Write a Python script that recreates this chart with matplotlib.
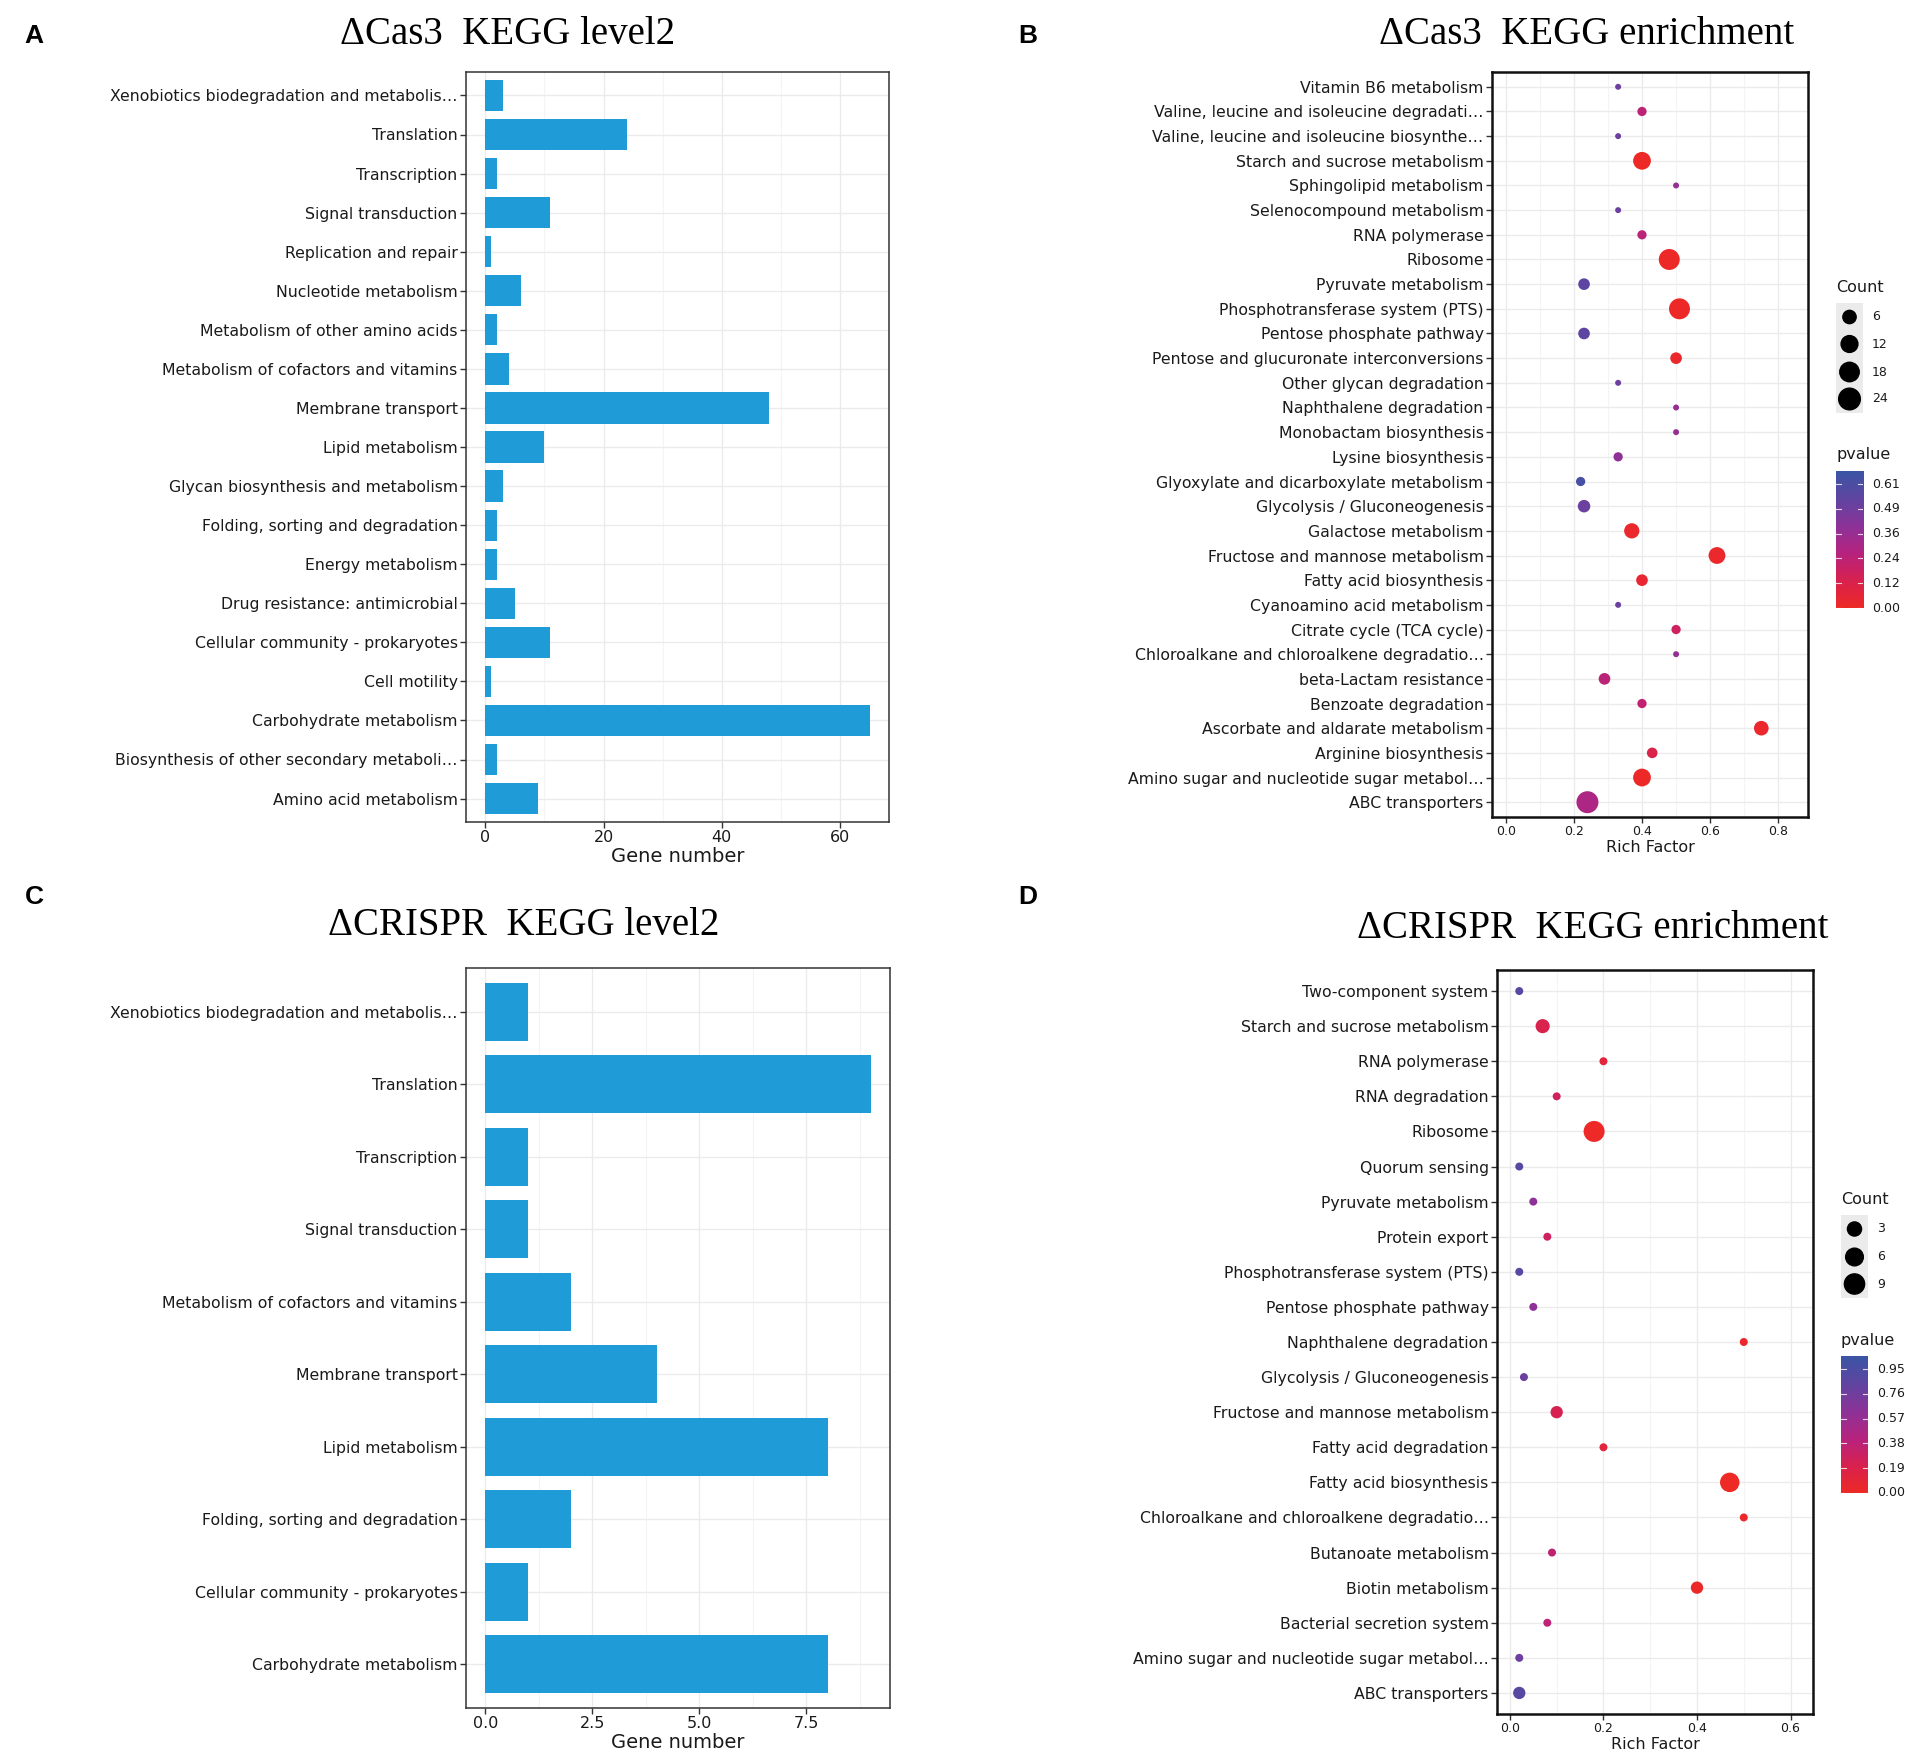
import matplotlib
matplotlib.use("Agg")
import matplotlib.pyplot as plt
import numpy as np
from matplotlib.colors import LinearSegmentedColormap
from matplotlib.patches import Rectangle

# ---------------- data ----------------
a_categories = ["Xenobiotics biodegradation and metabolis…", "Translation", "Transcription",
                "Signal transduction", "Replication and repair", "Nucleotide metabolism",
                "Metabolism of other amino acids", "Metabolism of cofactors and vitamins",
                "Membrane transport", "Lipid metabolism", "Glycan biosynthesis and metabolism",
                "Folding, sorting and degradation", "Energy metabolism",
                "Drug resistance: antimicrobial", "Cellular community - prokaryotes",
                "Cell motility", "Carbohydrate metabolism",
                "Biosynthesis of other secondary metaboli…", "Amino acid metabolism"]
a_genes = [3, 24, 2, 11, 1, 6, 2, 4, 48, 10, 3, 2, 2, 5, 11, 1, 65, 2, 9]

c_categories = ["Xenobiotics biodegradation and metabolis…", "Translation", "Transcription",
                "Signal transduction", "Metabolism of cofactors and vitamins",
                "Membrane transport", "Lipid metabolism", "Folding, sorting and degradation",
                "Cellular community - prokaryotes", "Carbohydrate metabolism"]
c_genes = [1, 9, 1, 1, 2, 4, 8, 2, 1, 8]

b_pathways = ["Vitamin B6 metabolism", "Valine, leucine and isoleucine degradati…",
              "Valine, leucine and isoleucine biosynthe…", "Starch and sucrose metabolism",
              "Sphingolipid metabolism", "Selenocompound metabolism", "RNA polymerase",
              "Ribosome", "Pyruvate metabolism", "Phosphotransferase system (PTS)",
              "Pentose phosphate pathway", "Pentose and glucuronate interconversions",
              "Other glycan degradation", "Naphthalene degradation", "Monobactam biosynthesis",
              "Lysine biosynthesis", "Glyoxylate and dicarboxylate metabolism",
              "Glycolysis / Gluconeogenesis", "Galactose metabolism",
              "Fructose and mannose metabolism", "Fatty acid biosynthesis",
              "Cyanoamino acid metabolism", "Citrate cycle (TCA cycle)",
              "Chloroalkane and chloroalkene degradatio…", "beta-Lactam resistance",
              "Benzoate degradation", "Ascorbate and aldarate metabolism",
              "Arginine biosynthesis", "Amino sugar and nucleotide sugar metabol…",
              "ABC transporters"]
b_rich = [0.33, 0.40, 0.33, 0.40, 0.50, 0.33, 0.40, 0.48, 0.23, 0.51,
          0.23, 0.50, 0.33, 0.50, 0.50, 0.33, 0.22, 0.23, 0.37, 0.62,
          0.40, 0.33, 0.50, 0.50, 0.29, 0.40, 0.75, 0.43, 0.40, 0.24]
b_count = [1, 2, 1, 14, 1, 1, 2, 22, 4, 22,
           4, 4, 1, 1, 1, 2, 2, 5, 9, 12,
           4, 1, 2, 1, 4, 2, 8, 3, 14, 25]
b_pvalue = [0.50, 0.25, 0.50, 0.01, 0.38, 0.50, 0.25, 0.01, 0.55, 0.01,
            0.55, 0.02, 0.50, 0.38, 0.38, 0.40, 0.63, 0.50, 0.02, 0.02,
            0.04, 0.50, 0.18, 0.38, 0.25, 0.23, 0.02, 0.12, 0.01, 0.30]

d_pathways = ["Two-component system", "Starch and sucrose metabolism", "RNA polymerase",
              "RNA degradation", "Ribosome", "Quorum sensing", "Pyruvate metabolism",
              "Protein export", "Phosphotransferase system (PTS)", "Pentose phosphate pathway",
              "Naphthalene degradation", "Glycolysis / Gluconeogenesis",
              "Fructose and mannose metabolism", "Fatty acid degradation",
              "Fatty acid biosynthesis", "Chloroalkane and chloroalkene degradatio…",
              "Butanoate metabolism", "Biotin metabolism", "Bacterial secretion system",
              "Amino sugar and nucleotide sugar metabol…", "ABC transporters"]
d_rich = [0.02, 0.07, 0.20, 0.10, 0.18, 0.02, 0.05, 0.08, 0.02, 0.05,
          0.50, 0.03, 0.10, 0.20, 0.47, 0.50, 0.09, 0.40, 0.08, 0.02, 0.02]
d_count = [1, 3, 1, 1, 10, 1, 1, 1, 1, 1,
           1, 1, 2, 1, 8, 1, 1, 2, 1, 1, 2]
d_pvalue = [0.90, 0.20, 0.12, 0.27, 0.01, 0.90, 0.62, 0.28, 0.90, 0.62,
            0.03, 0.78, 0.22, 0.12, 0.005, 0.03, 0.35, 0.02, 0.38, 0.78, 0.88]

b_count_breaks = [6, 12, 18, 24]
d_count_breaks = [3, 6, 9]
b_p_ticks = [0.0, 0.122, 0.244, 0.366, 0.488, 0.61]
b_p_labels = ["0.00", "0.12", "0.24", "0.36", "0.49", "0.61"]
d_p_ticks = [0.0, 0.19, 0.38, 0.57, 0.76, 0.95]
d_p_labels = ["0.00", "0.19", "0.38", "0.57", "0.76", "0.95"]

# ---------------- style ----------------
W, H = 1905, 1753
DPI = 100
fig = plt.figure(figsize=(W / DPI, H / DPI), dpi=DPI)
plt.rcParams['font.family'] = ['DejaVu Sans']

BAR = '#1F9BD7'
GRID = '#EBEBEB'
cmap = LinearSegmentedColormap.from_list(
    'pv', ['#EE2A26', '#D8214F', '#B6237F', '#8C3398', '#5F45A1', '#3B55A5'])
PX2PT = 72.0 / DPI


def rect(l, t, r, b):
    return [l / W, 1 - b / H, (r - l) / W, (b - t) / H]


def diam_px(c, cmin, cmax, dmin, dmax):
    c = np.asarray(c, dtype=float)
    return dmin + (dmax - dmin) * np.sqrt((c - cmin) / (cmax - cmin))


def style_axes(ax, border_color, border_lw):
    for s in ax.spines.values():
        s.set_color(border_color)
        s.set_linewidth(border_lw)
    ax.set_axisbelow(True)
    ax.tick_params(axis='both', length=4, width=1.0, color='#333333', pad=2)


def bar_panel(box, cats, vals, xmax_data, xticks, xticklabels, minor, ylabsize, xticksize):
    ax = fig.add_axes(rect(*box))
    n = len(cats)
    y = np.arange(n)
    ax.barh(y, vals, height=0.8, color=BAR, zorder=3)
    ax.set_ylim(n - 1 + 0.6, -0.6)
    span = xmax_data
    ax.set_xlim(-0.05 * span, xmax_data + 0.05 * span)
    ax.set_yticks(y)
    ax.set_yticklabels(cats, fontsize=ylabsize, color='#1a1a1a')
    ax.set_xticks(xticks)
    ax.set_xticklabels(xticklabels, fontsize=xticksize, color='#1a1a1a')
    ax.set_xticks(minor, minor=True)
    ax.tick_params(axis='x', which='minor', length=0)
    ax.grid(True, which='major', color=GRID, lw=1.0)
    ax.grid(True, which='minor', axis='x', color='#F4F4F4', lw=0.8)
    style_axes(ax, '#333333', 1.1)
    ax.set_xlabel('Gene number', fontsize=14, labelpad=1, color='#1a1a1a')
    return ax


def dot_panel(box, paths, rich, counts, pvals, xlim, xticks, vmax, cmin, cmax, dmin, dmax,
              ylabsize, xticksize):
    ax = fig.add_axes(rect(*box))
    n = len(paths)
    y = np.arange(n)
    d = diam_px(counts, cmin, cmax, dmin, dmax) * PX2PT
    ax.scatter(rich, y, s=d ** 2, c=pvals, cmap=cmap, vmin=0, vmax=vmax,
               edgecolors='none', zorder=3)
    ax.set_ylim(n - 1 + 0.6, -0.6)
    ax.set_xlim(*xlim)
    ax.set_yticks(y)
    ax.set_yticklabels(paths, fontsize=ylabsize, color='#1a1a1a')
    ax.set_xticks(xticks)
    ax.set_xticklabels([f"{t:.1f}" for t in xticks], fontsize=xticksize, color='#1a1a1a')
    minor = [(xticks[i] + xticks[i + 1]) / 2 for i in range(len(xticks) - 1)]
    ax.set_xticks(minor, minor=True)
    ax.tick_params(axis='x', which='minor', length=0)
    ax.grid(True, which='major', color=GRID, lw=1.0)
    ax.grid(True, which='minor', axis='x', color='#F4F4F4', lw=0.8)
    style_axes(ax, '#111111', 1.8)
    ax.set_xlabel('Rich Factor', fontsize=11.5, labelpad=1, color='#1a1a1a')
    return ax


def count_legend(x0, title_y, box_top, box_bot, key_ys, breaks, cmin, cmax, dmin, dmax):
    fig.text(x0 / W, 1 - title_y / H, 'Count', fontsize=11.5, va='center', ha='left',
             color='#1a1a1a')
    lax = fig.add_axes(rect(x0, box_top, x0 + 27, box_bot))
    lax.set_xlim(0, 1)
    lax.set_ylim(box_bot, box_top)
    lax.axis('off')
    lax.add_patch(Rectangle((0, box_top), 1, box_bot - box_top, color='#EBEBEB', zorder=0))
    d = diam_px(breaks, cmin, cmax, dmin, dmax) * PX2PT
    lax.scatter([0.5] * len(breaks), key_ys, s=d ** 2, c='black', zorder=2)
    for yy, b in zip(key_ys, breaks):
        fig.text((x0 + 36) / W, 1 - yy / H, str(b), fontsize=9, va='center',
                 ha='left', color='#1a1a1a')


def pvalue_bar(x0, title_y, top, bot, vmax, ticks, labels):
    fig.text(x0 / W, 1 - title_y / H, 'pvalue', fontsize=11.5, va='center', ha='left',
             color='#1a1a1a')
    cax = fig.add_axes(rect(x0, top, x0 + 27, bot))
    grad = np.linspace(0, vmax, 256).reshape(-1, 1)
    cax.imshow(grad, aspect='auto', cmap=cmap, vmin=0, vmax=vmax, origin='lower',
               extent=[0, 1, 0, vmax])
    cax.set_xlim(0, 1)
    cax.set_ylim(0, vmax)
    cax.axis('off')
    for t, lab in zip(ticks, labels):
        cax.plot([0, 0.2], [t, t], color='white', lw=0.8, alpha=0.8)
        cax.plot([0.8, 1], [t, t], color='white', lw=0.8, alpha=0.8)
        yy = bot - (bot - top) * t / vmax
        fig.text((x0 + 36) / W, 1 - yy / H, lab, fontsize=9, va='center', ha='left',
                 color='#1a1a1a')


# ---------------- panels ----------------
bar_panel((466, 72, 889, 822), a_categories, a_genes, 65,
          [0, 20, 40, 60], ['0', '20', '40', '60'], [10, 30, 50], 11.3, 11.5)
bar_panel((466, 968, 890, 1708), c_categories, c_genes, 9,
          [0, 2.5, 5.0, 7.5], ['0.0', '2.5', '5.0', '7.5'], [1.25, 3.75, 6.25, 8.75], 11.3, 11.5)

dot_panel((1492, 72, 1808, 817), b_pathways, b_rich, b_count, b_pvalue,
          (-0.04, 0.887), [0.0, 0.2, 0.4, 0.6, 0.8], 0.675, 1, 25, 6, 22, 11.3, 9)
dot_panel((1497, 970, 1813, 1714), d_pathways, d_rich, d_count, d_pvalue,
          (-0.0276, 0.648), [0.0, 0.2, 0.4, 0.6], 1.05, 1, 10, 8, 21, 11.3, 9)

count_legend(1836, 288, 303, 413, [317, 344, 372, 399], b_count_breaks, 1, 25, 6, 22)
pvalue_bar(1836, 455, 471, 608, 0.675, b_p_ticks, b_p_labels)
count_legend(1841, 1199, 1215, 1298, [1229, 1257, 1284], d_count_breaks, 1, 10, 8, 21)
pvalue_bar(1841, 1340, 1356, 1493, 1.05, d_p_ticks, d_p_labels)

# ---------------- titles & letters ----------------
serif = ['Liberation Serif', 'DejaVu Serif']
fig.text(508 / W, 1 - 34 / H, 'ΔCas3  KEGG level2', fontsize=28, family=serif,
         ha='center', va='center')
fig.text(1587 / W, 1 - 34 / H, 'ΔCas3  KEGG enrichment', fontsize=28, family=serif,
         ha='center', va='center')
fig.text(524 / W, 1 - 926 / H, 'ΔCRISPR  KEGG level2', fontsize=28, family=serif,
         ha='center', va='center')
fig.text(1593 / W, 1 - 929 / H, 'ΔCRISPR  KEGG enrichment', fontsize=28, family=serif,
         ha='center', va='center')

letter_font = ['Liberation Sans', 'DejaVu Sans']
for lab, x, yv in [('A', 34, 36), ('B', 1028, 36), ('C', 34, 897), ('D', 1028, 897)]:
    fig.text(x / W, 1 - yv / H, lab, fontsize=19, fontweight='bold', family=letter_font,
             ha='center', va='center')

fig.savefig('out.png', dpi=DPI, facecolor='white')
